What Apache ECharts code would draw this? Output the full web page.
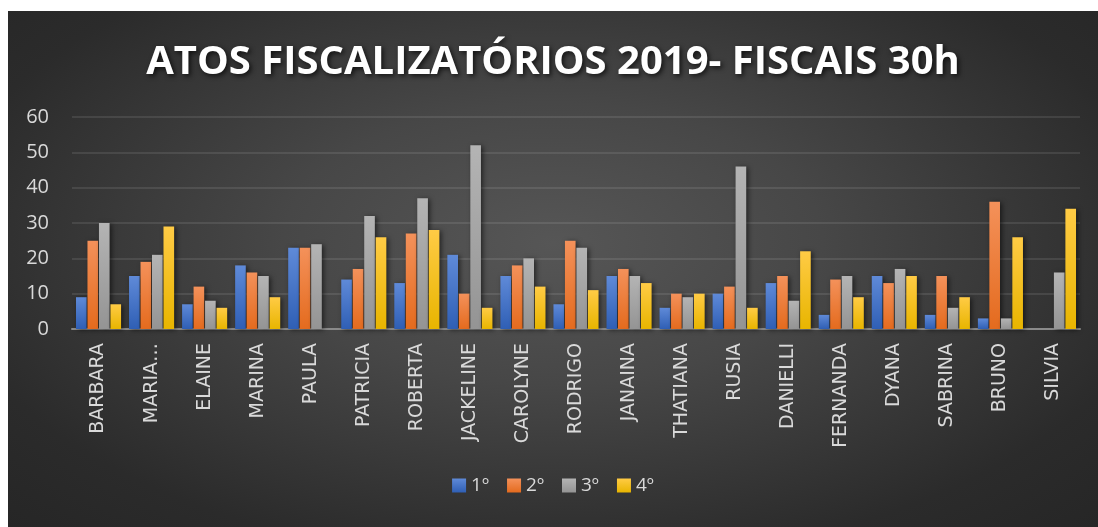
<!DOCTYPE html>
<html>
<head>
<meta charset="utf-8">
<script src="https://cdn.jsdelivr.net/npm/echarts@6/dist/echarts.min.js"></script>
<style>
	html, body { margin: 0; padding: 0; background: #fff; }
	#main {
		position: absolute; left: 8px; top: 11px; width: 1090px; height: 516px;
		background: radial-gradient(ellipse at 50% 45%, #565656 0%, #474747 35%, #2b2b2b 80%, #262626 100%);
	}
</style>
</head>
<body>
<div id="main"></div>
<script>
var categorias = ['BARBARA','MARIA…','ELAINE','MARINA','PAULA','PATRICIA','ROBERTA','JACKELINE','CAROLYNE','RODRIGO','JANAINA','THATIANA','RUSIA','DANIELLI','FERNANDA','DYANA','SABRINA','BRUNO','SILVIA'];
var serie1 = [9,15,7,18,23,14,13,21,15,7,15,6,10,13,4,15,4,3,null];
var serie2 = [25,19,12,16,23,17,27,10,18,25,17,10,12,15,14,13,15,36,null];
var serie3 = [30,21,8,15,24,32,37,52,20,23,15,9,46,8,15,17,6,3,16];
var serie4 = [7,29,6,9,null,26,28,6,12,11,13,10,6,22,9,15,9,26,34];
var nomes = ['1º','2º','3º','4º'];
var yTicks = [0,10,20,30,40,50,60];

function grad(top, bottom){
	return new echarts.graphic.LinearGradient(0,0,0,1,[
		{offset:0,color:top},{offset:1,color:bottom}
	]);
}

function createOption(){
	var cores = [
		grad('#5f8ad8','#2f5fb5'),
		grad('#f4915a','#e46b1e'),
		grad('#b4b4b4','#949494'),
		grad('#ffcb45','#e8b500')
	];
	var legendCores = ['#4a78cc','#ee7a33','#a6a6a6','#ffc21a'];
	var dados = [serie1,serie2,serie3,serie4];
	var series = [];
	for(var i=0;i<4;i++){
		series.push({
			name: nomes[i],
			type: 'bar',
			data: dados[i],
			barGap: '8%',
			barCategoryGap: '15%',
			color: legendCores[i],
			itemStyle: {
				color: cores[i],
				shadowBlur: 5,
				shadowColor: 'rgba(0,0,0,0.55)',
				shadowOffsetX: 2,
				shadowOffsetY: 1
			}
		});
	}
	option = {
		animation: false,
		title: {
			text: 'ATOS FISCALIZATÓRIOS 2019- FISCAIS 30h',
			left: 'center',
			top: 27,
			textStyle: {
				color: '#ffffff',
				fontFamily: 'Open Sans',
				fontWeight: 'bold',
				fontSize: 40,
				textShadowColor: 'rgba(0,0,0,0.7)',
				textShadowBlur: 5,
				textShadowOffsetX: 2,
				textShadowOffsetY: 2
			}
		},
		legend: {
			data: nomes,
			bottom: 27,
			left: 'center',
			itemWidth: 14,
			itemHeight: 14,
			itemGap: 18,
			icon: 'rect',
			textStyle: { color: '#d9d9d9', fontSize: 19, fontFamily: 'Open Sans' }
		},
		grid: {
			left: 64,
			right: 18,
			top: 106,
			bottom: 198
		},
		xAxis: {
			type: 'category',
			data: categorias,
			axisLine: { lineStyle: { color: '#8a8a8a', width: 2 } },
			axisTick: { show: false },
			axisLabel: {
				rotate: 90,
				interval: 0,
				margin: 14,
				color: '#d9d9d9',
				fontSize: 19,
				fontFamily: 'DejaVu Sans'
			}
		},
		yAxis: {
			type: 'value',
			min: yTicks[0],
			max: yTicks[yTicks.length-1],
			interval: 10,
			axisLine: { show: false },
			axisTick: { show: false },
			axisLabel: { color: '#d9d9d9', fontSize: 20, fontFamily: 'Open Sans', margin: 23 },
			splitLine: { lineStyle: { color: 'rgba(255,255,255,0.13)', width: 1.5 } }
		},
		series: series
	};
	return option;
}

var myChart = echarts.init(document.getElementById('main'));
myChart.setOption(createOption());
</script>
</body>
</html>
